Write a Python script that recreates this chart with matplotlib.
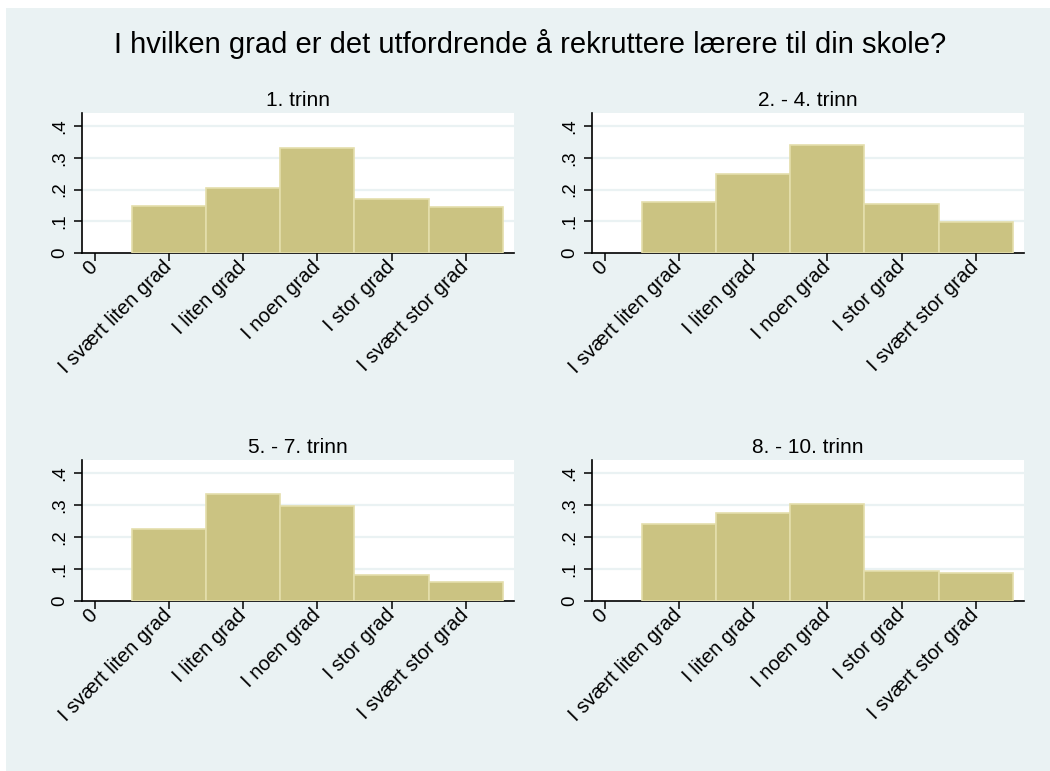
import matplotlib
matplotlib.use("Agg")
import matplotlib.pyplot as plt
from matplotlib.patches import Rectangle

plt.rcParams['font.family'] = ['Liberation Sans', 'DejaVu Sans']

title = "I hvilken grad er det utfordrende å rekruttere lærere til din skole?"
panel_titles = ["1. trinn", "2. - 4. trinn", "5. - 7. trinn", "8. - 10. trinn"]
categories = ["I svært liten grad", "I liten grad", "I noen grad", "I stor grad", "I svært stor grad"]
x_positions = [1, 2, 3, 4, 5]
tick_labels = ["0"] + categories
y_ticks = [0, 0.1, 0.2, 0.3, 0.4]
y_tick_labels = ["0", ".1", ".2", ".3", ".4"]

trinn_1 = [0.149, 0.205, 0.330, 0.170, 0.144]
trinn_2_4 = [0.161, 0.248, 0.341, 0.154, 0.098]
trinn_5_7 = [0.224, 0.334, 0.297, 0.082, 0.059]
trinn_8_10 = [0.242, 0.274, 0.302, 0.095, 0.089]
series = [trinn_1, trinn_2_4, trinn_5_7, trinn_8_10]

W, H = 1050, 771
fig = plt.figure(figsize=(W / 100, H / 100), dpi=100)
fig.patch.set_facecolor('white')
bg = '#EAF2F3'
fig.patches.append(Rectangle((6 / W, 0), 1 - 6 / W, 1 - 8 / H, transform=fig.transFigure,
                             facecolor=bg, edgecolor='none', zorder=-10))

fig.text(530 / W, 1 - 53 / H, title, ha='center', va='baseline', fontsize=21)

# panel boxes in pixels: (left, top, right, bottom)
boxes = [(82, 113, 514, 253), (592, 113, 1024, 253),
         (82, 460, 514, 601), (592, 460, 1024, 601)]

bar_color = '#CBC382'
edge_color = '#E4DEAC'

for vals, ptitle, (l, t, r, b) in zip(series, panel_titles, boxes):
    ax = fig.add_axes([l / W, 1 - b / H, (r - l) / W, (b - t) / H])
    ax.set_facecolor('white')
    ax.bar(x_positions, vals, width=1.0, color=bar_color, edgecolor=edge_color,
           linewidth=1.2, zorder=3)
    ax.set_xlim(-0.17, 5.65)
    ax.set_ylim(0, 0.441)
    ax.set_yticks(y_ticks)
    ax.set_yticklabels(y_tick_labels, rotation=90, va='center', fontsize=13.5)
    ax.set_xticks([0] + x_positions)
    ax.set_xticklabels(tick_labels, rotation=45, ha='right', va='center',
                       rotation_mode='anchor', fontsize=14.5)
    for y in y_ticks[1:]:
        ax.axhline(y, color=bg, linewidth=1.6, zorder=1)
    for s in ['top', 'right']:
        ax.spines[s].set_visible(False)
    ax.spines['left'].set_linewidth(1.2)
    ax.spines['bottom'].set_linewidth(1.2)
    ax.tick_params(axis='both', direction='out', length=6, width=1.1, colors='black')
    ax.tick_params(axis='y', pad=4)
    ax.tick_params(axis='x', pad=2)
    ax.set_title(ptitle, fontsize=15, pad=5)

fig.savefig('out.png', dpi=100, facecolor=fig.get_facecolor())
